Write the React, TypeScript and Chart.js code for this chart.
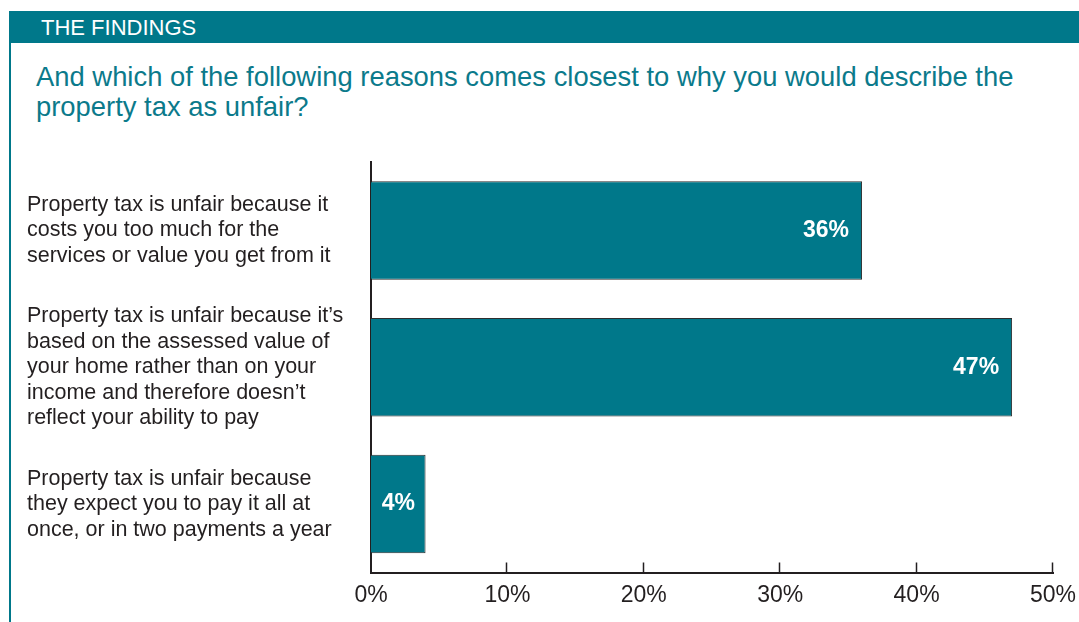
import React, { useEffect, useRef } from "react";
import { Chart, registerables } from "chart.js";

Chart.register(...registerables);

const categories: string[][] = [
  ["Property tax is unfair because it", "costs you too much for the", "services or value you get from it"],
  [
    "Property tax is unfair because it\u2019s",
    "based on the assessed value of",
    "your home rather than on your",
    "income and therefore doesn\u2019t",
    "reflect your ability to pay",
  ],
  ["Property tax is unfair because", "they expect you to pay it all at", "once, or in two payments a year"],
];
const values: number[] = [36, 47, 4];
const xTicks: number[] = [0, 10, 20, 30, 40, 50];

const TEAL = "#00788a";
const DARK = "#231f20";
const FONT = "'Liberation Sans', Arial, Helvetica, sans-serif";

const barLabels = {
  id: "barLabels",
  afterDatasetsDraw(chart: any) {
    const ctx = chart.ctx;
    const meta = chart.getDatasetMeta(0);
    ctx.save();
    ctx.font = `bold 23px ${FONT}`;
    ctx.fillStyle = "#ffffff";
    ctx.textBaseline = "middle";
    meta.data.forEach((el: any, i: number) => {
      const txt = `${values[i]}%`;
      const w = ctx.measureText(txt).width;
      const len = el.x - el.base;
      if (len > w + 30) {
        ctx.textAlign = "right";
        ctx.fillText(txt, el.x - 13, el.y);
      } else {
        ctx.textAlign = "center";
        ctx.fillText(txt, (el.x + el.base) / 2, el.y);
      }
    });
    ctx.restore();
  },
};

const innerTicks = {
  id: "innerTicks",
  afterDraw(chart: any) {
    const ctx = chart.ctx;
    const xs = chart.scales.x;
    const bottom = chart.chartArea.bottom;
    ctx.save();
    ctx.strokeStyle = DARK;
    ctx.lineWidth = 1.5;
    xTicks.forEach((t) => {
      if (t === 0) return;
      const px = Math.round(xs.getPixelForValue(t)) - 0.5;
      ctx.beginPath();
      ctx.moveTo(px, bottom - 10);
      ctx.lineTo(px, bottom);
      ctx.stroke();
    });
    ctx.restore();
  },
};

export default function App() {
  const ref = useRef<HTMLCanvasElement | null>(null);

  useEffect(() => {
    document.body.style.margin = "0";
    document.body.style.overflow = "hidden";
    if (!ref.current) return;
    const chart = new Chart(ref.current, {
      type: "bar",
      data: {
        labels: categories as any,
        datasets: [
          {
            data: values,
            backgroundColor: TEAL,
            borderColor: "#2e2e2e",
            borderWidth: 1,
            barPercentage: 0.72,
            categoryPercentage: 1,
          },
        ],
      },
      options: {
        indexAxis: "y",
        animation: false,
        responsive: false,
        maintainAspectRatio: false,
        layout: { padding: { left: 27, right: 26, top: 12, bottom: 0 } },
        plugins: {
          legend: { display: false },
          tooltip: { enabled: false },
          title: { display: false },
        },
        scales: {
          x: {
            type: "linear",
            min: 0,
            max: 50,
            afterBuildTicks: (scale: any) => {
              scale.ticks = xTicks.map((v) => ({ value: v }));
            },
            afterFit: (scale: any) => {
              scale.height = 49.5;
              scale.paddingLeft = 0;
              scale.paddingRight = 0;
            },
            grid: { display: false, drawTicks: false },
            border: { display: true, color: DARK, width: 2 },
            ticks: {
              padding: 9,
              color: DARK,
              font: { family: FONT, size: 23 },
              callback: (v: any) => `${v}%`,
              maxRotation: 0,
              autoSkip: false,
            },
          },
          y: {
            afterFit: (scale: any) => {
              scale.width = 344;
              scale.paddingTop = 0;
              scale.paddingBottom = 0;
            },
            grid: { display: false, drawTicks: false },
            border: { display: true, color: DARK, width: 2 },
            ticks: {
              crossAlign: "far",
              autoSkip: false,
              color: DARK,
              font: { family: FONT, size: 21.5, lineHeight: "25.5px" },
            },
          },
        },
      },
      plugins: [barLabels, innerTicks],
    } as any);
    return () => chart.destroy();
  }, []);

  return (
    <div
      style={{
        position: "absolute",
        left: 0,
        top: 0,
        width: 1079,
        height: 622,
        background: "#ffffff",
        overflow: "hidden",
        fontFamily: FONT,
      }}
    >
      <div
        style={{
          position: "absolute",
          left: 9,
          top: 11,
          width: 1070,
          height: 32,
          background: TEAL,
        }}
      />
      <div
        style={{
          position: "absolute",
          left: 9,
          top: 11,
          width: 2,
          height: 611,
          background: TEAL,
        }}
      />
      <div
        style={{
          position: "absolute",
          left: 41,
          top: 15,
          color: "#ffffff",
          fontSize: 22,
          lineHeight: "26px",
          whiteSpace: "nowrap",
        }}
      >
        THE FINDINGS
      </div>
      <div
        style={{
          position: "absolute",
          left: 36,
          top: 62,
          color: "#0b7a8b",
          fontSize: 27.4,
          lineHeight: "30px",
          whiteSpace: "nowrap",
        }}
      >
        And which of the following reasons comes closest to why you would describe the
        <br />
        property tax as unfair?
      </div>
      <canvas
        ref={ref}
        width={1079}
        height={472}
        style={{ position: "absolute", left: 0, top: 150, width: 1079, height: 472 }}
      />
    </div>
  );
}
